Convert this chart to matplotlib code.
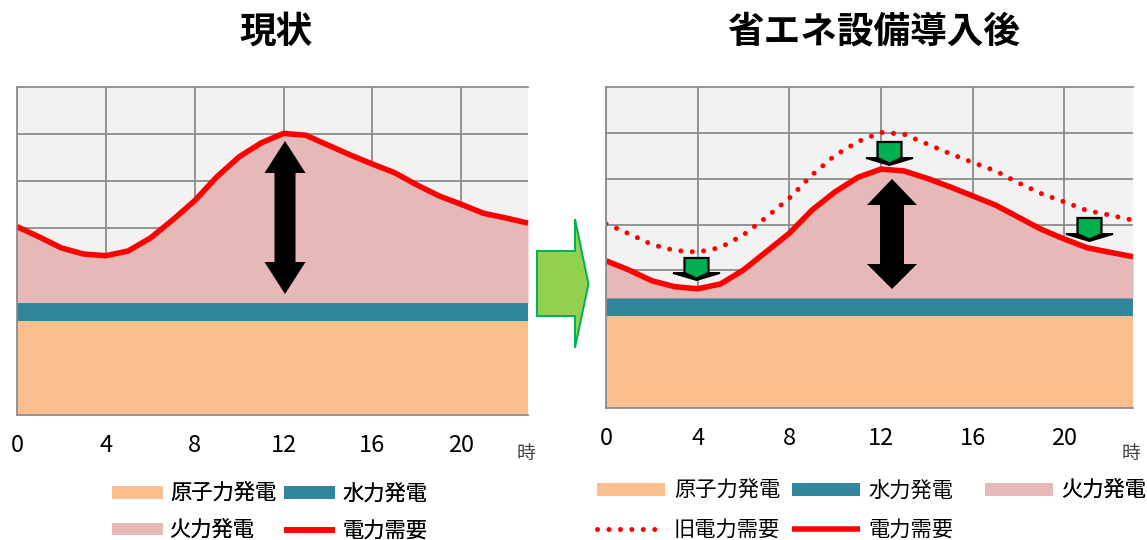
import matplotlib
matplotlib.use('Agg')
import matplotlib.pyplot as plt
from matplotlib.patches import Polygon

plt.rcParams['font.family'] = ['Noto Sans CJK JP', 'DejaVu Sans']

W, H = 1147, 540

# values (grid unit = 20)
hours = list(range(24))
nuclear = [40] * 24
hydro = [8] * 24
old_demand = [80.4, 76, 71.3, 68.7, 68, 70, 75.5, 83.2, 91.5, 101.7, 110.2, 116.2,
              120.2, 119.4, 115.2, 111, 107.1, 103.4, 98.2, 93.5, 89.9, 86.1, 84.1, 81.9]
new_demand = [64.2, 60.2, 55.5, 52.9, 52, 54.1, 60.2, 68.2, 76.2, 86.4, 94.3, 100.6,
              104.2, 103.4, 100.2, 96.5, 92.5, 88.5, 83.2, 77.9, 73.7, 69.9, 67.9, 66]
hour_ticks = [0, 4, 8, 12, 16, 20]
level_ticks = [20, 40, 60, 80, 100, 120]

ORANGE = '#FBBF8F'
TEAL = '#31859C'
PINK = '#E6B8B7'
RED = '#FF0000'
GRID = '#8C8C8C'

fig = plt.figure(figsize=(W / 100, H / 100), dpi=100)


def make_axes(left, right, top, bottom):
    ax = fig.add_axes([left / W, 1 - bottom / H, (right - left) / W, (bottom - top) / H])
    ax.set_xlim(0, 23)
    ax.set_ylim(0, 140)
    ax.set_facecolor('#F2F2F2')
    ax.set_xticks(hour_ticks)
    ax.set_yticks(level_ticks)
    ax.set_yticklabels([])
    ax.tick_params(length=0)
    ax.tick_params(axis='x', labelsize=17, pad=14)
    ax.grid(color=GRID, lw=1.3)
    ax.set_axisbelow(True)
    ax.spines['right'].set_visible(False)
    for side in ['left', 'top', 'bottom']:
        ax.spines[side].set_color(GRID)
        ax.spines[side].set_linewidth(1.3)
    return ax


def draw_areas(ax, demand):
    top_hydro = [a + b for a, b in zip(nuclear, hydro)]
    ax.fill_between(hours, 0, nuclear, color=ORANGE, lw=0, label='原子力発電')
    ax.fill_between(hours, nuclear, top_hydro, color=TEAL, lw=0, label='水力発電')
    ax.fill_between(hours, top_hydro, demand, color=PINK, lw=0, label='火力発電')


def pick(ax, names):
    handles, labels = ax.get_legend_handles_labels()
    idx = [labels.index(name) for name in names]
    return [handles[i] for i in idx], [labels[i] for i in idx]


def add_legend(ax, names, ncols, x, y, **kw):
    h, l = pick(ax, names)
    leg = ax.legend(h, l, ncols=ncols, loc='upper left', bbox_to_anchor=(x / W, 1 - y / H),
                    bbox_transform=fig.transFigure, frameon=False, fontsize=15.3, borderpad=0,
                    borderaxespad=0, handleheight=0.5, **kw)
    ax.add_artist(leg)


def px_poly(points, **kw):
    # shapes laid over the chart, given in pixels of the picture
    pts = [(x / W, 1 - y / H) for x, y in points]
    fig.add_artist(Polygon(pts, closed=True, transform=fig.transFigure, **kw))


def double_arrow(cx, top, base1, base2, bottom, head, body):
    px_poly([(cx, top), (cx + head, base1), (cx + body, base1), (cx + body, base2),
             (cx + head, base2), (cx, bottom), (cx - head, base2), (cx - body, base2),
             (cx - body, base1), (cx - head, base1)], fc='black', ec='none')


def down_arrow(cx, top, shoulder, tip):
    body, head = 12, 23.5
    px_poly([(cx - head, shoulder), (cx + head, shoulder), (cx, tip)], fc='black', ec='black', lw=1.4)
    px_poly([(cx - body, top), (cx + body, top), (cx + body, shoulder), (cx, tip - 1.5), (cx - body, shoulder)],
            fc='#00B050', ec='black', lw=1.6, joinstyle='miter')


# left chart
ax1 = make_axes(17, 528, 87, 415)
draw_areas(ax1, old_demand)
ax1.plot(hours, old_demand, color=RED, lw=4, solid_capstyle='butt', clip_on=False, label='電力需要')
add_legend(ax1, ['原子力発電', '火力発電', '水力発電', '電力需要'], 2, 112, 483,
           handlelength=2.4, columnspacing=0.38, handletextpad=0.33, labelspacing=0.7)

# right chart
ax2 = make_axes(606, 1133, 87, 408)
draw_areas(ax2, new_demand)
ax2.plot(hours, old_demand, color=RED, lw=3.6, linestyle=(0, (0.01, 2.28)),
         dash_capstyle='round', label='旧電力需要')
ax2.plot(hours, new_demand, color=RED, lw=4, solid_capstyle='butt', clip_on=False, label='電力需要')
add_legend(ax2, ['原子力発電', '旧電力需要', '水力発電', '電力需要'], 2, 597, 480,
           handlelength=3.2, columnspacing=0.55, handletextpad=0.42, labelspacing=0.8)
add_legend(ax2, ['火力発電'], 1, 985, 480, handlelength=3.2, handletextpad=0.42)

# titles and hour unit
fig.text(276 / W, 1 - 32 / H, '現状', fontsize=26.4, fontweight='bold', ha='center', va='center')
fig.text(874 / W, 1 - 32 / H, '省エネ設備導入後', fontsize=26.4, fontweight='bold', ha='center', va='center')
fig.text(526 / W, 1 - 453 / H, '時', fontsize=13.5, color='#404040', ha='center', va='center')
fig.text(1131 / W, 1 - 453 / H, '時', fontsize=13.5, color='#404040', ha='center', va='center')

# arrows
double_arrow(285, 141, 173, 262, 294, 20.5, 10.5)
double_arrow(892, 179, 205, 264, 289, 25, 12)
down_arrow(696.5, 258, 273, 280)
down_arrow(889.5, 142, 158, 165)
down_arrow(1089.5, 218, 234, 241)
px_poly([(537, 251), (575, 251), (575, 219), (588.5, 284), (575, 348), (575, 316), (537, 316)],
        fc='#92D050', ec='#00B050', lw=1.4)

fig.savefig('out.png', dpi=100)
